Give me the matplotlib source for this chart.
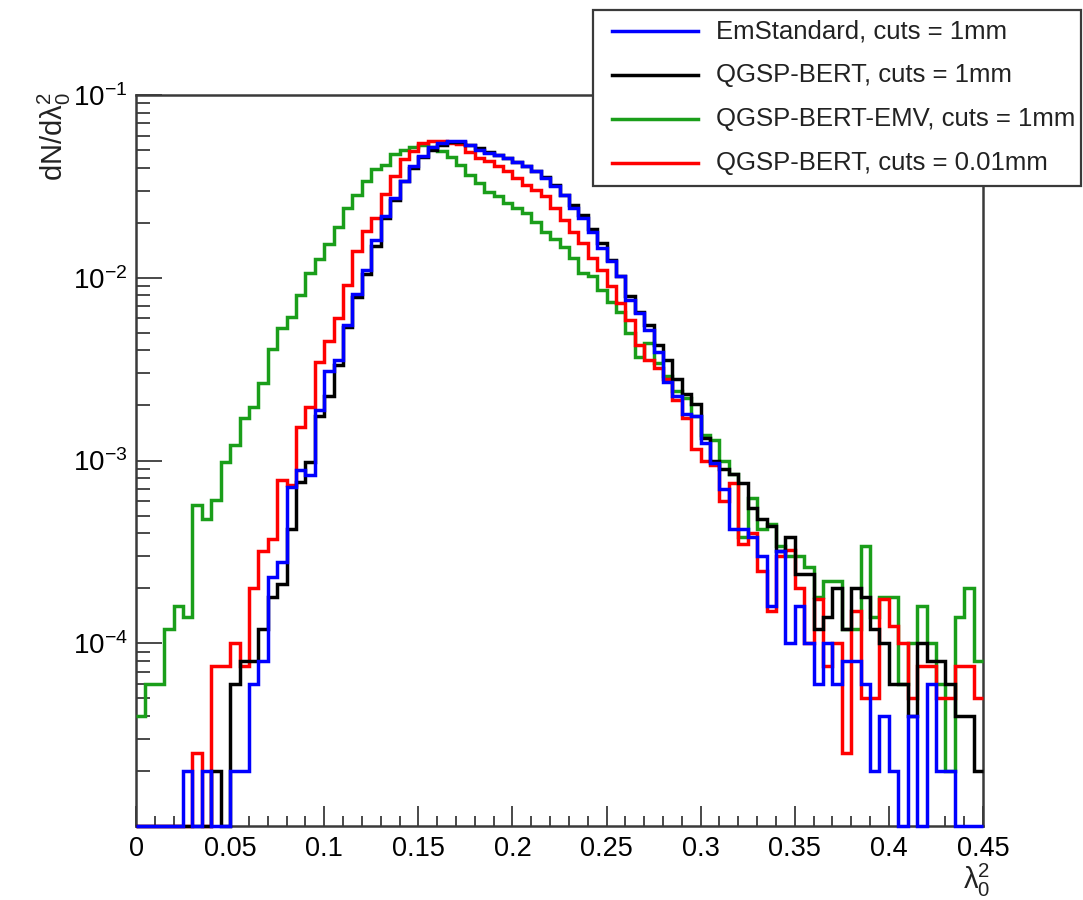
import numpy as np
import matplotlib
matplotlib.use("Agg")
import matplotlib.pyplot as plt
from matplotlib.ticker import LogLocator, NullFormatter, LogFormatterMathtext, FixedLocator, FixedFormatter
from matplotlib.patches import Rectangle
from matplotlib.lines import Line2D

plt.rcParams['font.family'] = ['Liberation Sans', 'DejaVu Sans']
plt.rcParams['mathtext.fontset'] = 'custom'
plt.rcParams['mathtext.rm'] = 'Liberation Sans'
plt.rcParams['mathtext.it'] = 'Liberation Sans:italic'

# ---------------- data ----------------
x_min, x_max, n_bins = 0.0, 0.45, 90
y_min, y_max = 1e-5, 1e-1

em_standard = [
    0, 0, 0, 0, 0, 2e-5, 0, 2e-5, 0, 0,
    2e-5, 2e-5, 6e-5, 8e-5, 2.3e-4, 2.8e-4, 7.2e-4, 8.9e-4, 8.3e-4, 1.9e-3,
    3.07e-3, 3.55e-3, 5.5e-3, 8.2e-3, 1.1e-2, 1.6e-2, 2.17e-2, 2.73e-2, 3.37e-2, 4.07e-2,
    4.62e-2, 5.2e-2, 5.45e-2, 5.6e-2, 5.6e-2, 5.3e-2, 5.0e-2, 4.8e-2, 4.67e-2, 4.53e-2,
    4.3e-2, 4.07e-2, 3.82e-2, 3.51e-2, 3.17e-2, 2.85e-2, 2.41e-2, 2.12e-2, 1.79e-2, 1.45e-2,
    1.24e-2, 1.02e-2, 7.6e-3, 6.4e-3, 5.2e-3, 3.9e-3, 2.7e-3, 2.24e-3, 1.8e-3, 1.75e-3,
    1.24e-3, 9.7e-4, 7.0e-4, 4.2e-4, 4.2e-4, 3.8e-4, 3.0e-4, 1.6e-4, 3.2e-4, 1.0e-4,
    1.6e-4, 1.0e-4, 6e-5, 1.0e-4, 6e-5, 8e-5, 8e-5, 6e-5, 2e-5, 4e-5,
    2e-5, 0, 4e-5, 0, 6e-5, 2e-5, 2e-5, 0, 0, 0,
]

qgsp_bert = [
    0, 0, 0, 0, 0, 0, 0, 0, 2e-5, 0,
    6e-5, 8e-5, 8e-5, 1.2e-4, 1.8e-4, 2.1e-4, 4.2e-4, 7.6e-4, 9.8e-4, 1.75e-3,
    2.24e-3, 3.33e-3, 5.4e-3, 7.8e-3, 1.05e-2, 1.5e-2, 2.13e-2, 2.67e-2, 3.37e-2, 4.0e-2,
    4.6e-2, 5.0e-2, 5.35e-2, 5.55e-2, 5.55e-2, 5.35e-2, 5.15e-2, 4.85e-2, 4.7e-2, 4.5e-2,
    4.3e-2, 4.1e-2, 3.85e-2, 3.55e-2, 3.2e-2, 2.85e-2, 2.5e-2, 2.2e-2, 1.85e-2, 1.55e-2,
    1.25e-2, 1.02e-2, 7.9e-3, 6.5e-3, 5.5e-3, 4.3e-3, 3.55e-3, 2.8e-3, 2.3e-3, 2.05e-3,
    1.33e-3, 1.0e-3, 9.0e-4, 8.4e-4, 7.5e-4, 5.5e-4, 4.8e-4, 4.4e-4, 3.2e-4, 3.8e-4,
    2.4e-4, 2.4e-4, 1.2e-4, 1.4e-4, 2.0e-4, 1.2e-4, 2.0e-4, 1.8e-4, 1.2e-4, 1.0e-4,
    6e-5, 6e-5, 4e-5, 1.0e-4, 8e-5, 8e-5, 6e-5, 4e-5, 4e-5, 2e-5,
]

qgsp_bert_emv = [
    4.0e-5, 6.0e-5, 6.0e-5, 1.2e-4, 1.6e-4, 1.4e-4, 5.7e-4, 4.8e-4, 6.1e-4, 9.8e-4,
    1.22e-3, 1.7e-3, 1.95e-3, 2.65e-3, 4.05e-3, 5.3e-3, 6.1e-3, 8.0e-3, 1.06e-2, 1.27e-2,
    1.53e-2, 1.89e-2, 2.41e-2, 2.82e-2, 3.4e-2, 3.92e-2, 4.13e-2, 4.75e-2, 5.0e-2, 5.2e-2,
    5.3e-2, 5.2e-2, 4.92e-2, 4.6e-2, 4.16e-2, 3.66e-2, 3.3e-2, 2.93e-2, 2.79e-2, 2.57e-2,
    2.41e-2, 2.26e-2, 2.03e-2, 1.79e-2, 1.62e-2, 1.47e-2, 1.28e-2, 1.06e-2, 1.02e-2, 8.6e-3,
    7.4e-3, 6.5e-3, 5.0e-3, 3.7e-3, 4.4e-3, 3.4e-3, 2.9e-3, 2.4e-3, 2.2e-3, 1.75e-3,
    1.38e-3, 1.3e-3, 1.0e-3, 8.4e-4, 3.8e-4, 6.2e-4, 4.2e-4, 4.5e-4, 3.4e-4, 3.0e-4,
    3.0e-4, 2.6e-4, 1.8e-4, 2.2e-4, 2.2e-4, 1.2e-4, 1.2e-4, 3.4e-4, 1.4e-4, 1.8e-4,
    1.8e-4, 6e-5, 1.0e-4, 1.6e-4, 1.0e-4, 6e-5, 2e-5, 1.4e-4, 2.0e-4, 8e-5,
]

qgsp_bert_fine = [
    0, 0, 0, 0, 0, 0, 2.5e-5, 0, 7.5e-5, 7.5e-5,
    1.0e-4, 7.5e-5, 2.0e-4, 3.2e-4, 3.7e-4, 7.8e-4, 7.3e-4, 1.53e-3, 1.97e-3, 3.48e-3,
    4.48e-3, 6.0e-3, 9.1e-3, 1.4e-2, 1.8e-2, 2.12e-2, 2.87e-2, 3.59e-2, 4.44e-2, 4.92e-2,
    5.47e-2, 5.6e-2, 5.6e-2, 5.47e-2, 5.36e-2, 4.88e-2, 4.53e-2, 4.34e-2, 4.07e-2, 3.82e-2,
    3.51e-2, 3.23e-2, 3.03e-2, 2.79e-2, 2.41e-2, 2.08e-2, 1.79e-2, 1.55e-2, 1.28e-2, 1.1e-2,
    9.0e-3, 7.3e-3, 5.9e-3, 4.3e-3, 3.55e-3, 3.2e-3, 2.8e-3, 2.15e-3, 1.7e-3, 1.16e-3,
    1.0e-3, 9.5e-4, 6.0e-4, 7.5e-4, 3.5e-4, 4.0e-4, 2.5e-4, 1.5e-4, 3.0e-4, 3.25e-4,
    2.0e-4, 1.0e-4, 1.75e-4, 7.5e-5, 1.0e-4, 2.5e-5, 1.5e-4, 5.0e-5, 5.0e-5, 1.75e-4,
    1.25e-4, 1.0e-4, 5.0e-5, 7.5e-5, 7.5e-5, 5.0e-5, 5.0e-5, 7.5e-5, 7.5e-5, 5.0e-5,
]

series_labels = [
    "EmStandard, cuts = 1mm",
    "QGSP-BERT, cuts = 1mm",
    "QGSP-BERT-EMV, cuts = 1mm",
    "QGSP-BERT, cuts = 0.01mm",
]
series_values = [em_standard, qgsp_bert, qgsp_bert_emv, qgsp_bert_fine]
series_colors = ["#0000ff", "#000000", "#1a9e1a", "#ff0000"]
draw_order = [2, 3, 1, 0]

x_tick_values = [0, 0.05, 0.1, 0.15, 0.2, 0.25, 0.3, 0.35, 0.4, 0.45]
x_tick_labels = ["0", "0.05", "0.1", "0.15", "0.2", "0.25", "0.3", "0.35", "0.4", "0.45"]
y_tick_values = [1e-4, 1e-3, 1e-2, 1e-1]
x_label = r"$\mathrm{λ}_{0}^{2}$"
y_label = r"$\mathrm{dN/dλ}_{0}^{2}$"

# ---------------- figure ----------------
W, H = 1083, 900
fig = plt.figure(figsize=(W / 100, H / 100), dpi=100)
ax = fig.add_axes([136 / W, 1 - 826 / H, (983 - 136) / W, (826 - 95) / H])

edges = np.linspace(x_min, x_max, n_bins + 1)
frame_col = "#3a3a3a"
for idx in draw_order:
    vals = np.clip(np.asarray(series_values[idx], dtype=float), y_min, None)
    ax.stairs(vals, edges, baseline=None, color=series_colors[idx], lw=2.5,
              zorder=3, clip_on=False)

ax.set_yscale("log")
ax.set_xlim(x_min, x_max)
ax.set_ylim(y_min, y_max)

ax.xaxis.set_major_locator(FixedLocator(x_tick_values))
ax.xaxis.set_major_formatter(FixedFormatter(x_tick_labels))
ax.xaxis.set_minor_locator(FixedLocator(np.arange(0.0, 0.4501, 0.01)))
ax.yaxis.set_major_locator(FixedLocator(y_tick_values))
ax.yaxis.set_major_formatter(LogFormatterMathtext())
ax.yaxis.set_minor_locator(LogLocator(base=10, subs=np.arange(2, 10), numticks=20))
ax.yaxis.set_minor_formatter(NullFormatter())

ax.tick_params(axis="x", which="major", direction="in", length=14.5, width=1.3,
               color=frame_col, labelsize=19.5, pad=7, top=False)
ax.tick_params(axis="x", which="minor", direction="in", length=7.2, width=1.3,
               color=frame_col, top=False)
ax.tick_params(axis="y", which="major", direction="in", length=19, width=1.3,
               color=frame_col, labelsize=20, pad=6, right=False)
ax.tick_params(axis="y", which="minor", direction="in", length=10, width=1.3,
               color=frame_col, right=False)
for sp in ax.spines.values():
    sp.set_color(frame_col)
    sp.set_linewidth(1.8)

# axis titles (ROOT style: at the ends of the axes)
fig.text(54 / W, 1 - 92 / H, y_label, rotation=90, ha="center", va="top",
         fontsize=21, color="#222222")
fig.text(990 / W, 1 - 899 / H, x_label, ha="right", va="bottom",
         fontsize=21, color="#222222")

# legend box (drawn manually, ROOT style)
box_l, box_t, box_r, box_b = 593, 10, 1081, 186
fig.add_artist(Rectangle((box_l / W, 1 - box_b / H), (box_r - box_l) / W,
                         (box_b - box_t) / H, transform=fig.transFigure,
                         facecolor="white", edgecolor=frame_col, lw=1.6, zorder=10))
row_y = [31, 75, 119, 163]
for k, (lab, col) in enumerate(zip(series_labels, series_colors)):
    yy = 1 - row_y[k] / H
    fig.add_artist(Line2D([612 / W, 698 / W], [yy, yy], transform=fig.transFigure,
                          color=col, lw=2.5, zorder=11))
    fig.text(716 / W, yy, lab, ha="left", va="center", fontsize=18.5,
             color="#222222", zorder=12)

fig.savefig("out.png", dpi=100)
